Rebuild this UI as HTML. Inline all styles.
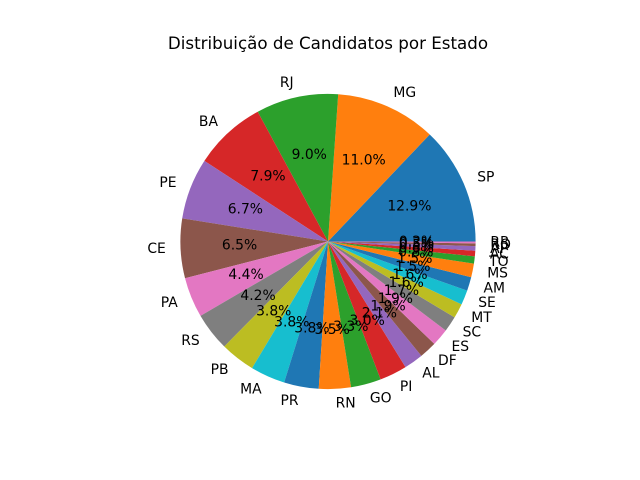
<!DOCTYPE html>
<html><head><meta charset="utf-8"><style>
body{margin:0;background:#fff}
svg{display:block;font-family:"DejaVu Sans","Liberation Sans",sans-serif}
</style></head><body>
<svg id="chart" width="640" height="480" viewBox="0 0 640 480">
<rect width="640" height="480" fill="#fff"/>
<text x="328" y="49" font-size="16.7" text-anchor="middle" fill="#000">Distribuição de Candidatos por Estado</text>
<g id="slices"></g>
<g id="labels"></g>
</svg>
<script>
const categories = ["SP","MG","RJ","BA","PE","CE","PA","RS","PB","MA","PR","RN","GO","PI","AL","DF","ES","SC","MT","SE","AM","MS","TO","AC","AP","RO","RR"];
const values = [12.9,11.0,9.0,7.9,6.7,6.5,4.4,4.2,3.8,3.8,3.8,3.5,3.3,3.0,2.1,1.9,1.9,1.7,1.6,1.6,1.5,1.5,0.8,0.6,0.5,0.3,0.2];
const colors = ["#1f77b4","#ff7f0e","#2ca02c","#d62728","#9467bd","#8c564b","#e377c2","#7f7f7f","#bcbd22","#17becf"];
const NS="http://www.w3.org/2000/svg";
const cx=328, cy=241.5, R=147.6;
const total=values.reduce((a,b)=>a+b,0);
const sg=document.getElementById('slices'), lg=document.getElementById('labels');
function pt(a,r){return [cx+r*Math.cos(a), cy-r*Math.sin(a)];}
let start=0;
values.forEach((v,i)=>{
  const sweep=v/total*2*Math.PI, end=start+sweep, mid=start+sweep/2;
  const p1=pt(start,R), p2=pt(end,R);
  const path=document.createElementNS(NS,'path');
  path.setAttribute('d',`M${cx},${cy} L${p1[0]},${p1[1]} A${R},${R} 0 ${sweep>Math.PI?1:0} 0 ${p2[0]},${p2[1]} Z`);
  path.setAttribute('fill',colors[i%10]);
  
  
  sg.appendChild(path);
  const lp=pt(mid,R*1.1);
  const t=document.createElementNS(NS,'text');
  t.setAttribute('x',lp[0]); t.setAttribute('y',lp[1]);
  t.setAttribute('font-size','13.9');
  t.setAttribute('dominant-baseline','central');
  t.setAttribute('text-anchor',Math.cos(mid)>=0?'start':'end');
  t.textContent=categories[i];
  
  
  lg.appendChild(t);
  const pp=pt(mid,R*0.6);
  const q=document.createElementNS(NS,'text');
  q.setAttribute('x',pp[0]); q.setAttribute('y',pp[1]);
  q.setAttribute('font-size','13.9');
  q.setAttribute('dominant-baseline','central');
  q.setAttribute('text-anchor','middle');
  q.textContent=(v/total*100).toFixed(1)+'%';
  
  
  lg.appendChild(q);
  start=end;
});
</script>
</body></html>
